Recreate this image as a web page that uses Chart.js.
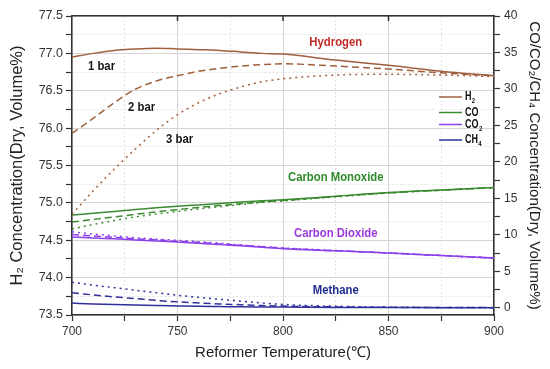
<!DOCTYPE html>
<html>
<head>
<meta charset="utf-8">
<script src="https://cdn.jsdelivr.net/npm/chart.js@4.4.0/dist/chart.umd.min.js"></script>
<style>
html, body { margin: 0; padding: 0; background: #fff; }
#wrap { width: 550px; height: 369px; }
</style>
</head>
<body>
<div id="wrap"><canvas id="chart" width="550" height="369"></canvas></div>
<script>
// reformer temperature (deg C)
const temps = [700, 710, 720, 730, 740, 750, 760, 770, 780, 790, 800, 825, 850, 875, 900];

// H2, left axis
const h2_1bar = [76.95, 77.00, 77.04, 77.06, 77.07, 77.06, 77.05, 77.04, 77.02, 77.00, 76.99, 76.91, 76.84, 76.76, 76.70];
const h2_2bar = [75.93, 76.13, 76.34, 76.52, 76.63, 76.70, 76.76, 76.80, 76.83, 76.85, 76.86, 76.83, 76.79, 76.74, 76.70];
const h2_3bar = [74.85, 75.16, 75.45, 75.72, 75.97, 76.18, 76.34, 76.46, 76.55, 76.62, 76.66, 76.71, 76.72, 76.71, 76.69];

// CO, CO2, CH4, right axis
const co_1bar = [12.7, 12.95, 13.2, 13.45, 13.7, 13.9, 14.1, 14.3, 14.5, 14.65, 14.8, 15.3, 15.8, 16.15, 16.5];
const co_2bar = [11.75, 12.1, 12.45, 12.8, 13.15, 13.45, 13.75, 14.0, 14.25, 14.5, 14.7, 15.25, 15.75, 16.12, 16.48];
const co_3bar = [10.8, 11.4, 11.95, 12.45, 12.85, 13.2, 13.55, 13.85, 14.15, 14.45, 14.65, 15.2, 15.72, 16.1, 16.45];

const co2_1bar = [9.7, 9.55, 9.45, 9.3, 9.15, 9.0, 8.85, 8.65, 8.5, 8.3, 8.1, 7.8, 7.5, 7.15, 6.8];
const co2_2bar = [10.05, 9.85, 9.65, 9.45, 9.3, 9.1, 8.95, 8.75, 8.55, 8.35, 8.15, 7.82, 7.5, 7.15, 6.8];
const co2_3bar = [10.4, 10.1, 9.85, 9.6, 9.4, 9.25, 9.05, 8.85, 8.6, 8.4, 8.2, 7.85, 7.52, 7.17, 6.82];

const ch4_1bar = [0.63, 0.52, 0.43, 0.36, 0.3, 0.25, 0.2, 0.16, 0.12, 0.1, 0.08, 0.04, 0.02, 0.01, 0.0];
const ch4_2bar = [2.05, 1.75, 1.48, 1.25, 1.0, 0.8, 0.65, 0.52, 0.4, 0.3, 0.22, 0.1, 0.05, 0.02, 0.01];
const ch4_3bar = [3.5, 3.1, 2.75, 2.4, 2.05, 1.7, 1.42, 1.15, 0.9, 0.65, 0.45, 0.2, 0.08, 0.03, 0.02];

// tick values
const xTickValues = [700, 725, 750, 775, 800, 825, 850, 875, 900];
const leftTickValues = [73.5, 73.75, 74.0, 74.25, 74.5, 74.75, 75.0, 75.25, 75.5, 75.75, 76.0, 76.25, 76.5, 76.75, 77.0, 77.25, 77.5];
const rightTickValues = [0, 2.5, 5, 7.5, 10, 12.5, 15, 17.5, 20, 22.5, 25, 27.5, 30, 32.5, 35, 37.5, 40];

// text labels placed in data coordinates
const notes = [
    { text: '1 bar', t: 714, v: 76.82, axis: 'y', color: '#151515' },
    { text: '2 bar', t: 733, v: 76.28, axis: 'y', color: '#151515' },
    { text: '3 bar', t: 751, v: 75.85, axis: 'y', color: '#151515' },
    { text: 'Hydrogen', t: 825, v: 77.14, axis: 'y', color: '#c22a26' },
    { text: 'Carbon Monoxide', t: 825, v: 17.9, axis: 'y1', color: '#2f8a2a' },
    { text: 'Carbon Dioxide', t: 825, v: 10.2, axis: 'y1', color: '#9a38dc' },
    { text: 'Methane', t: 825, v: 2.4, axis: 'y1', color: '#1f2d8e' },
];

const H2_COLOR = '#a0603e';
const CO_COLOR = '#3c8a32';
const CO2_COLOR = '#8c40ea';
const CH4_COLOR = '#30309c';

const legendItems = [
    { main: 'H', sub: '2', color: H2_COLOR, y: 97 },
    { main: 'CO', sub: '', color: CO_COLOR, y: 112.5 },
    { main: 'CO', sub: '2', color: CO2_COLOR, y: 124.5 },
    { main: 'CH', sub: '4', color: CH4_COLOR, y: 140 },
];

const SOLID = [];
const DASHED = [7, 4];
const DOTTED = [2, 4];

function series(label, values, color, dash, axis) {
    return {
        label: label,
        data: temps.map((t, i) => ({ x: t, y: values[i] })),
        borderColor: color,
        backgroundColor: color,
        borderWidth: 1.5,
        borderDash: dash,
        pointRadius: 0,
        cubicInterpolationMode: 'monotone',
        yAxisID: axis,
        fill: false,
    };
}

const FONT = 'Liberation Sans, Arial, sans-serif';

function isMajor(v, step) {
    const r = v / step;
    return Math.abs(r - Math.round(r)) < 1e-6;
}

function gridColor(step) {
    return (c) => (c.tick && isMajor(c.tick.value, step) ? '#d4d4d4' : '#e2e2e2');
}
function gridDash(step) {
    return (c) => (c.tick && !isMajor(c.tick.value, step) ? [2, 2] : []);
}

function drawCondensed(ctx, text, x, y, size, color, squeeze) {
    ctx.save();
    ctx.translate(x, y);
    ctx.scale(squeeze, 1);
    ctx.font = `bold ${size}px ${FONT}`;
    ctx.fillStyle = color;
    ctx.textAlign = 'center';
    ctx.textBaseline = 'middle';
    ctx.fillText(text, 0, 0);
    ctx.restore();
}

const extrasPlugin = {
    id: 'extras',
    afterDatasetsDraw(chart) {
        const ctx = chart.ctx;
        const area = chart.chartArea;
        const xs = chart.scales.x;

        // inner ticks on the top frame
        ctx.save();
        ctx.strokeStyle = '#333';
        ctx.lineWidth = 1.5;
        xTickValues.forEach((v) => {
            if (!isMajor(v, 50) || v === 700 || v === 900) return;
            const px = xs.getPixelForValue(v);
            ctx.beginPath();
            ctx.moveTo(px, area.top);
            ctx.lineTo(px, area.top + 5);
            ctx.stroke();
        });
        ctx.restore();

        // notes
        notes.forEach((n) => {
            const px = xs.getPixelForValue(n.t);
            const py = chart.scales[n.axis].getPixelForValue(n.v);
            drawCondensed(ctx, n.text, px, py, 13, n.color, 0.87);
        });

        // legend
        const x0 = area.right - 55;
        legendItems.forEach((it) => {
            ctx.save();
            ctx.strokeStyle = it.color;
            ctx.lineWidth = 1.5;
            ctx.beginPath();
            ctx.moveTo(x0, it.y);
            ctx.lineTo(x0 + 23, it.y);
            ctx.stroke();
            ctx.translate(x0 + 26, it.y);
            ctx.scale(0.75, 1);
            ctx.fillStyle = '#111';
            ctx.textBaseline = 'middle';
            ctx.textAlign = 'left';
            ctx.font = `bold 12px ${FONT}`;
            ctx.fillText(it.main, 0, 0);
            const w = ctx.measureText(it.main).width;
            if (it.sub) {
                ctx.font = `bold 8px ${FONT}`;
                ctx.fillText(it.sub, w + 0.5, 4);
            }
            ctx.restore();
        });
    },
};

new Chart(document.getElementById('chart'), {
    type: 'line',
    data: {
        datasets: [
            series('H2 1 bar', h2_1bar, H2_COLOR, SOLID, 'y'),
            series('H2 2 bar', h2_2bar, H2_COLOR, DASHED, 'y'),
            series('H2 3 bar', h2_3bar, H2_COLOR, DOTTED, 'y'),
            series('CO 1 bar', co_1bar, CO_COLOR, SOLID, 'y1'),
            series('CO 2 bar', co_2bar, CO_COLOR, DASHED, 'y1'),
            series('CO 3 bar', co_3bar, CO_COLOR, DOTTED, 'y1'),
            series('CO2 1 bar', co2_1bar, CO2_COLOR, SOLID, 'y1'),
            series('CO2 2 bar', co2_2bar, CO2_COLOR, DASHED, 'y1'),
            series('CO2 3 bar', co2_3bar, CO2_COLOR, DOTTED, 'y1'),
            series('CH4 1 bar', ch4_1bar, CH4_COLOR, SOLID, 'y1'),
            series('CH4 2 bar', ch4_2bar, CH4_COLOR, DASHED, 'y1'),
            series('CH4 3 bar', ch4_3bar, CH4_COLOR, DOTTED, 'y1'),
        ],
    },
    options: {
        responsive: false,
        animation: false,
        layout: { padding: { top: 16, left: 0, right: 0, bottom: 0 } },
        plugins: {
            legend: { display: false },
            tooltip: { enabled: false },
        },
        scales: {
            x: {
                type: 'linear',
                position: 'bottom',
                min: 700,
                max: 900,
                afterBuildTicks: (s) => { s.ticks = xTickValues.map((v) => ({ value: v })); },
                afterFit: (s) => { s.height = 54; },
                ticks: {
                    autoSkip: false,
                    maxRotation: 0,
                    padding: 3,
                    color: '#333',
                    font: { family: FONT, size: 12 },
                    callback: (v) => (isMajor(v, 50) ? String(v) : ''),
                },
                grid: { color: gridColor(50), tickColor: '#333', tickLength: 6, tickWidth: 1.2, lineWidth: 1 },
                border: { color: '#333', width: 1.5, dash: gridDash(50) },
                title: {
                    display: true,
                    text: 'Reformer Temperature(℃)',
                    color: '#222',
                    font: { family: FONT, size: 15 },
                    padding: { top: 0, bottom: 7 },
                },
            },
            x2: {
                type: 'linear',
                position: 'top',
                min: 700,
                max: 900,
                afterFit: (s) => { s.height = 0; },
                ticks: { display: false },
                grid: { drawOnChartArea: false, drawTicks: false },
                border: { color: '#333', width: 1.5 },
            },
            y: {
                type: 'linear',
                position: 'left',
                min: 73.5,
                max: 77.5,
                afterBuildTicks: (s) => { s.ticks = leftTickValues.map((v) => ({ value: v })); },
                afterFit: (s) => { s.width = 72; },
                ticks: {
                    autoSkip: false,
                    padding: 3,
                    color: '#333',
                    font: { family: FONT, size: 12.5 },
                    callback: (v) => (isMajor(v, 0.5) ? v.toFixed(1) : ''),
                },
                grid: { color: gridColor(0.5), tickColor: '#333', tickLength: 6, tickWidth: 1.2, lineWidth: 1 },
                border: { color: '#333', width: 1.5, dash: gridDash(0.5) },
                title: {
                    display: true,
                    text: 'H₂ Concentration(Dry, Volume%)',
                    color: '#222',
                    font: { family: FONT, size: 16.5 },
                    padding: { top: 8, bottom: 0 },
                },
            },
            y1: {
                type: 'linear',
                position: 'right',
                min: -1,
                max: 40,
                afterBuildTicks: (s) => { s.ticks = rightTickValues.map((v) => ({ value: v })); },
                afterFit: (s) => { s.width = 56; },
                ticks: {
                    autoSkip: false,
                    padding: 4,
                    color: '#333',
                    font: { family: FONT, size: 12 },
                    callback: (v) => (isMajor(v, 5) ? String(v) : ''),
                },
                grid: { drawOnChartArea: false, tickColor: '#333', tickLength: 6, tickWidth: 1.2 },
                border: { color: '#333', width: 1.5 },
                title: {
                    display: true,
                    text: 'CO/CO₂/CH₄ Concentration(Dry, Volume%)',
                    color: '#222',
                    font: { family: FONT, size: 15 },
                    padding: { top: 7, bottom: 0 },
                },
            },
        },
    },
    plugins: [extrasPlugin],
});
</script>
</body>
</html>
